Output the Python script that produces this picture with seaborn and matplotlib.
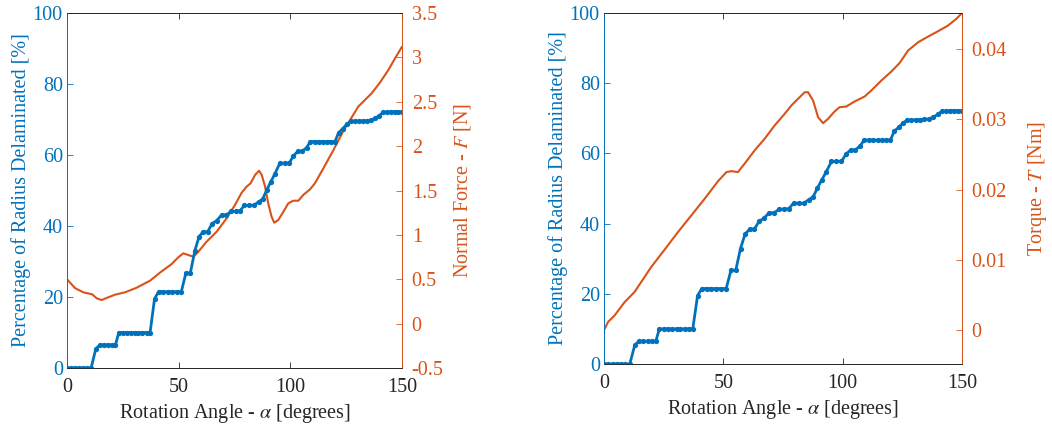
import numpy as np
import pandas as pd
import matplotlib
matplotlib.use("Agg")
import matplotlib.pyplot as plt
import seaborn as sns

# ---------------- data ----------------
angle_pct = [0, 1.8, 3.6, 5.4, 7.2, 9.0, 10.8,
             12.9,
             14.7, 16.5, 18.3, 20.1, 21.7,
             23.2, 25.0, 26.8, 28.6, 30.4, 32.0, 33.8, 35.6, 37.2,
             39.2,
             41.0, 43.0, 45.0, 47.0, 49.2, 51.2,
             53.2, 55.2,
             57.2, 59.1, 61.0, 63.0, 65.0, 67.0, 69.2, 71.3,
             73.4, 75.5, 77.5, 79.4, 81.5, 83.6, 85.8, 87.6, 89.4, 91.2, 93.0,
             95.3, 97.4, 99.5, 101.3, 103.3, 105.3, 107.3,
             109.0, 110.9, 112.8, 114.6, 116.5, 118.3, 120.0,
             121.6, 123.4, 125.2,
             127.0, 128.8, 130.6, 132.4, 134.2, 136.0,
             137.9, 139.8,
             141.6, 143.3, 145.0, 146.7, 148.4, 150.0]
pct_delam = [0, 0, 0, 0, 0, 0, 0,
             5.4,
             6.5, 6.5, 6.5, 6.5, 6.5,
             10, 10, 10, 10, 10, 10, 10, 10, 10,
             19.5,
             21.5, 21.5, 21.5, 21.5, 21.5, 21.5,
             26.7, 26.7,
             32.9, 37.0, 38.4, 38.4, 40.7, 41.5, 43.1, 43.1,
             44.1, 44.1, 44.3, 45.8, 45.8, 45.8, 46.8, 47.6, 50.1, 52.4, 54.6,
             57.7, 57.7, 57.7, 59.7, 61.0, 61.0, 62.1,
             63.8, 63.8, 63.8, 63.8, 63.8, 63.8, 63.8,
             66.3, 67.4, 68.6,
             69.5, 69.5, 69.6, 69.6, 69.7, 69.8,
             70.3, 71.1,
             72.0, 72.1, 72.2, 72.2, 72.2, 72.2]

angle_force = [0, 3.6, 7.3, 11.3, 13.3, 15.5, 17.8, 21.5, 26.0, 31.2, 37.2,
               41.6, 46.9, 49.8, 52.1, 54.3, 56.6, 58.8, 62.5, 67.0, 71.5,
               75.2, 78.2, 80.4, 82.2, 84.2, 86.0, 87.2, 88.7, 90.1, 91.6,
               92.8, 94.6, 96.9, 99.1, 101.3, 103.6, 105.8, 108.8, 111.0,
               114.8, 119.3, 123.7, 127.5, 130.4, 133.4, 136.4, 140.1, 143.9,
               146.9, 150.0]
normal_force = [0.50, 0.40, 0.353, 0.33, 0.285, 0.266, 0.29, 0.326, 0.353,
                0.405, 0.484, 0.574, 0.672, 0.747, 0.792, 0.773, 0.754, 0.81,
                0.923, 1.036, 1.187, 1.337, 1.475, 1.543, 1.581, 1.675, 1.723,
                1.675, 1.543, 1.356, 1.205, 1.137, 1.168, 1.261, 1.356, 1.385,
                1.385, 1.45, 1.513, 1.581, 1.75, 1.956, 2.17, 2.325, 2.445,
                2.52, 2.595, 2.715, 2.858, 2.99, 3.12]

angle_torque = [0, 1.7, 4.5, 8.7, 12.8, 15.6, 19.8, 25.4, 31.0, 36.6, 42.2,
                47.8, 51.3, 53.4, 56.1, 58.9, 63.1, 67.3, 71.5, 75.7, 78.5,
                81.3, 84.1, 85.5, 87.6, 89.7, 91.8, 93.9, 96.6, 98.7, 101.5,
                105.0, 109.2, 112.0, 116.2, 120.4, 123.9, 127.4, 131.6, 135.8,
                139.9, 144.1, 147.6, 150.0]
torque = [0.0, 0.00118, 0.00213, 0.00402, 0.00544, 0.00686, 0.0090, 0.01146,
          0.01396, 0.01633, 0.0187, 0.0212, 0.02248, 0.02262, 0.02248,
          0.02367, 0.02556, 0.02722, 0.02911, 0.03077, 0.03195, 0.0329,
          0.03384, 0.03384, 0.03266, 0.03029, 0.02944, 0.03006, 0.0311,
          0.03171, 0.0318, 0.03252, 0.03323, 0.03408, 0.0355, 0.03678,
          0.03801, 0.03976, 0.04094, 0.04175, 0.0425, 0.04331, 0.04426,
          0.0451]

x_ticks = [0, 50, 100, 150]
pct_ticks = [0, 20, 40, 60, 80, 100]
force_ticks = [-0.5, 0, 0.5, 1, 1.5, 2, 2.5, 3, 3.5]
force_ticklabels = ["-0.5", "0", "0.5", "1", "1.5", "2", "2.5", "3", "3.5"]
torque_ticks = [0, 0.01, 0.02, 0.03, 0.04]
torque_ticklabels = ["0", "0.01", "0.02", "0.03", "0.04"]

# ---------------- style ----------------
sns.set_style("ticks")
plt.rcParams["font.family"] = ["Liberation Serif", "DejaVu Serif"]
plt.rcParams["mathtext.fontset"] = "stix"
plt.rcParams["xtick.direction"] = "in"
plt.rcParams["ytick.direction"] = "in"

BLUE = "#0072BD"
ORANGE = "#D95319"
DARK = "#262626"
FS = 14.5

df_pct = pd.DataFrame({"angle": angle_pct, "pct": pct_delam})
df_force = pd.DataFrame({"angle": angle_force, "force": normal_force})
df_torque = pd.DataFrame({"angle": angle_torque, "torque": torque})

fig = plt.figure(figsize=(10.52, 4.28), dpi=100)
axL = fig.add_axes([67 / 1052, (428 - 368) / 428, 335 / 1052, 355 / 428])
axR = fig.add_axes([604 / 1052, (428 - 364) / 428, 358 / 1052, 351 / 428])


def style_panel(ax, ax2, right_ticks, right_labels, right_lim, right_label,
                rpad):
    ax.set_xlim(0, 150)
    ax.set_ylim(0, 100)
    ax.set_xticks(x_ticks)
    ax.set_yticks(pct_ticks)
    ax.tick_params(axis="x", colors=DARK, labelcolor=DARK, labelsize=FS,
                   length=4, width=0.6, top=True, pad=7)
    ax.tick_params(axis="y", colors=BLUE, labelcolor=BLUE, labelsize=FS,
                   length=4, width=0.6, pad=3)
    ax.set_xlabel(r"Rotation Angle - $\alpha$ [degrees]", fontsize=FS,
                  color=DARK, labelpad=4)
    ax.set_ylabel("Percentage of Radius Delaminated [%]", fontsize=FS,
                  color=BLUE, labelpad=1)
    ax2.set_ylim(*right_lim)
    ax2.set_yticks(right_ticks)
    ax2.set_yticklabels(right_labels)
    ax2.tick_params(axis="y", colors=ORANGE, labelcolor=ORANGE, labelsize=FS,
                    length=4, width=0.6, pad=7)
    ax2.set_ylabel(right_label, fontsize=FS, color=ORANGE, labelpad=rpad)
    for a in (ax, ax2):
        a.spines["top"].set_visible(True)
        a.spines["right"].set_visible(True)
        a.spines["top"].set_color(DARK)
        a.spines["bottom"].set_color(DARK)
        a.spines["left"].set_color(BLUE)
        a.spines["right"].set_color(ORANGE)
        for s in a.spines.values():
            s.set_linewidth(0.6)
    ax.set_zorder(ax2.get_zorder() + 1)
    ax.patch.set_visible(False)


# Left panel
axL2 = axL.twinx()
sns.lineplot(data=df_force, x="angle", y="force", ax=axL2, color=ORANGE,
             linewidth=1.5)
sns.lineplot(data=df_pct, x="angle", y="pct", ax=axL, color=BLUE,
             linewidth=2.0, marker="o", markersize=3.8, markeredgewidth=0)
style_panel(axL, axL2, force_ticks, force_ticklabels, (-0.5, 3.5),
            r"Normal Force - $F$ [N]", 6)

# Right panel
axR2 = axR.twinx()
sns.lineplot(data=df_torque, x="angle", y="torque", ax=axR2, color=ORANGE,
             linewidth=1.5)
sns.lineplot(data=df_pct, x="angle", y="pct", ax=axR, color=BLUE,
             linewidth=2.0, marker="o", markersize=3.8, markeredgewidth=0)
style_panel(axR, axR2, torque_ticks, torque_ticklabels, (-0.0048, 0.0451),
            r"Torque - $T$ [Nm]", 14)

fig.savefig("out.png", dpi=100)
